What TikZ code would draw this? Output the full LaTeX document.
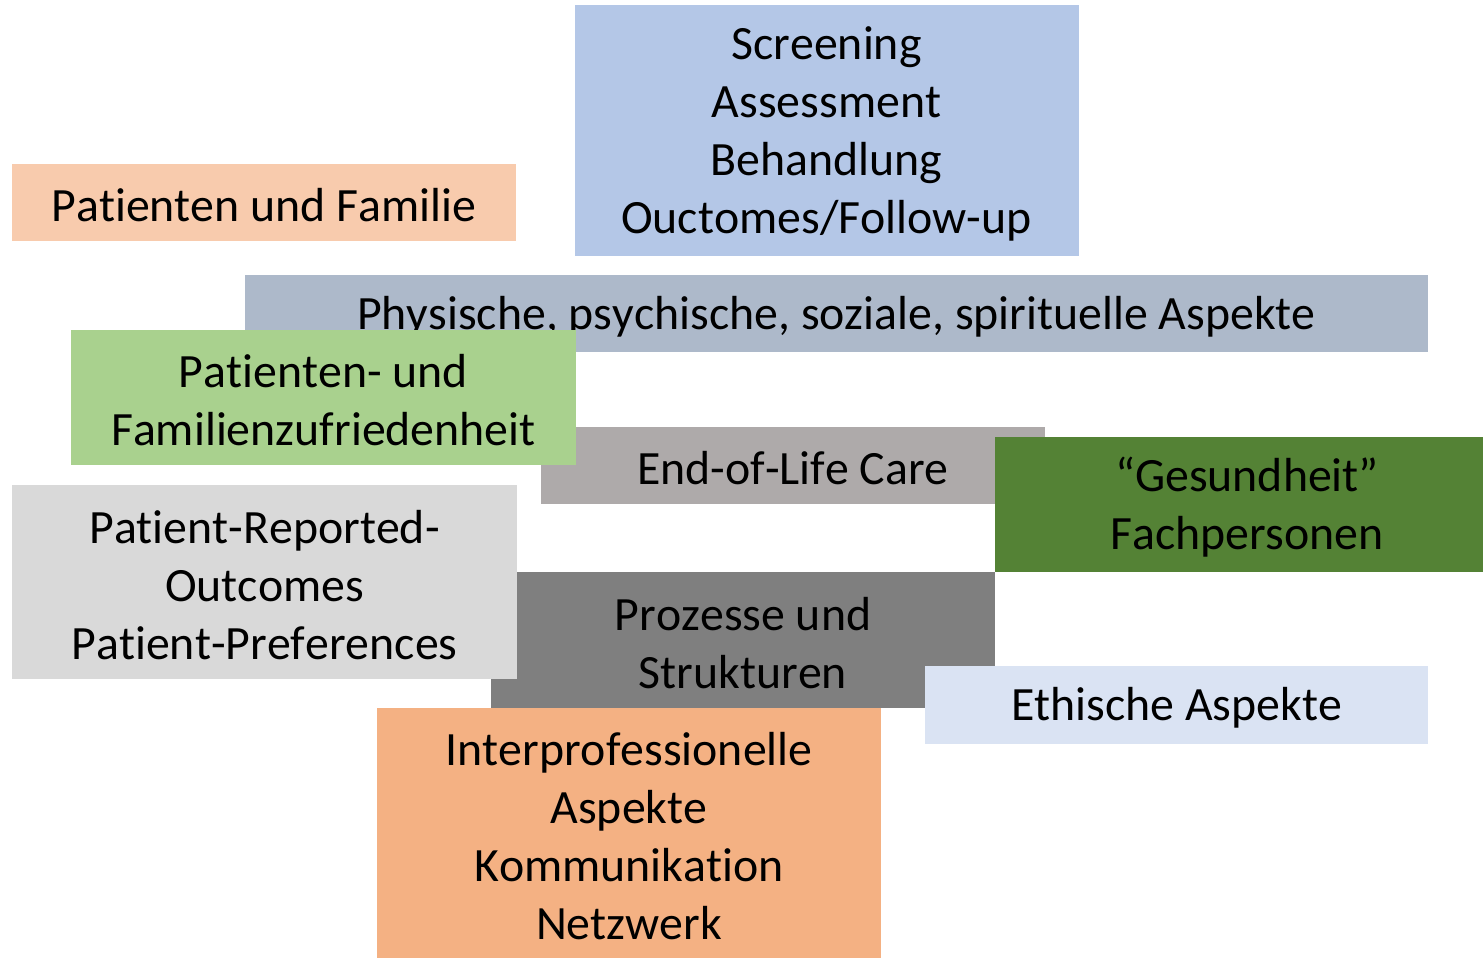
\documentclass[tikz,border=0pt]{standalone}
\usepackage{fontspec}
\setmainfont[Ligatures={NoCommon},Kerning=Off]{Carlito}
\definecolor{cScr}{HTML}{B4C7E7}
\definecolor{cFam}{HTML}{F8CBAD}
\definecolor{cPhy}{HTML}{ADB9CA}
\definecolor{cEol}{HTML}{AEAAAA}
\definecolor{cZuf}{HTML}{A9D18E}
\definecolor{cGes}{HTML}{548235}
\definecolor{cPrp}{HTML}{D9D9D9}
\definecolor{cPro}{HTML}{7F7F7F}
\definecolor{cEth}{HTML}{DAE3F3}
\definecolor{cInt}{HTML}{F4B183}
\tikzset{
  boxstyle/.style={rectangle, inner sep=0pt},
  txtstyle/.style={inner sep=0pt, align=center, text=black, yshift=-3pt,
    font=\fontsize{47.8}{58}\selectfont},
}
\begin{document}
\begin{tikzpicture}[x=1pt,y=-1pt]
\useasboundingbox (0,0) rectangle (1483,958);
\begin{scope}
\clip (0,0) rectangle (1483,958);
\node[boxstyle, fill=cScr, minimum width=504pt, minimum height=251pt,
  label={[txtstyle]center:Screening\\Assessment\\Behandlung\\Ouctomes/Follow-up}] (scr) at (826.5,130.5) {};
\node[boxstyle, fill=cFam, minimum width=504pt, minimum height=77pt,
  label={[txtstyle]center:Patienten und Familie}] (fam) at (264,202.5) {};
\node[boxstyle, fill=cPhy, minimum width=1183pt, minimum height=77pt,
  label={[txtstyle]center:{Physische, psychische, soziale, spirituelle Aspekte}}] (phy) at (836.5,313.5) {};
\node[boxstyle, fill=cEol, minimum width=504pt, minimum height=77pt,
  label={[txtstyle]center:End-of-Life Care}] (eol) at (793,465.5) {};
\node[boxstyle, fill=cZuf, minimum width=505pt, minimum height=135pt,
  label={[txtstyle]center:Patienten- und\\Familienzufriedenheit}] (zuf) at (323.5,397.5) {};
\node[boxstyle, fill=cGes, minimum width=504pt, minimum height=135pt,
  label={[txtstyle]center:“Gesundheit”\\Fachpersonen}] (ges) at (1247,504.5) {};
\node[boxstyle, fill=cPro, minimum width=504pt, minimum height=135.5pt,
  label={[txtstyle]center:Prozesse und\\Strukturen}] (pro) at (743,639.75) {};
\node[boxstyle, fill=cPrp, minimum width=505pt, minimum height=194pt,
  label={[txtstyle]center:Patient-Reported-\\Outcomes\\Patient-Preferences}] (prp) at (264.5,582) {};
\node[boxstyle, fill=cEth, minimum width=503pt, minimum height=77.5pt,
  label={[txtstyle]center:Ethische Aspekte}] (eth) at (1176.5,704.75) {};
\node[boxstyle, fill=cInt, minimum width=504pt, minimum height=250.5pt,
  label={[txtstyle]center:Interprofessionelle\\Aspekte\\Kommunikation\\Netzwerk}] (int) at (629,832.75) {};
\end{scope}
\end{tikzpicture}
\end{document}
